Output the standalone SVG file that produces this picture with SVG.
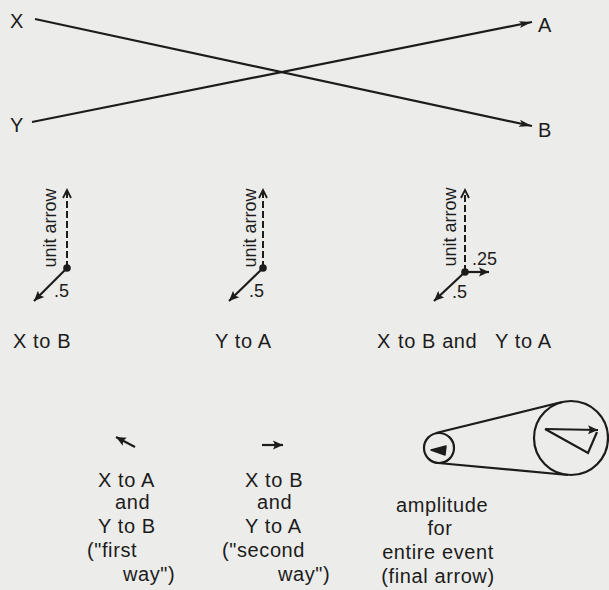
<svg xmlns="http://www.w3.org/2000/svg" width="609" height="590" viewBox="0 0 609 590">
<style>
text{font-family:"Liberation Sans",Arial,sans-serif;fill:#1c1c1c}
.lbl{font-size:20px;letter-spacing:0.6px}
.num{font-size:18px}
.ln{stroke:#1c1c1c;stroke-width:2.2;fill:none}
.dash{stroke:#1c1c1c;stroke-width:2;fill:none;stroke-dasharray:7 3}
</style>
<defs>
<marker id="ah" markerUnits="userSpaceOnUse" markerWidth="14" markerHeight="8" refX="13" refY="4" orient="auto">
<path d="M0,0.5 L13,4 L0,7.5 L3,4 z" fill="#1c1c1c"/>
</marker>
<marker id="as" markerUnits="userSpaceOnUse" markerWidth="11" markerHeight="10" refX="10" refY="5" orient="auto">
<path d="M0,0.5 L10,5 L0,9.5 L2,5 z" fill="#1c1c1c"/>
</marker>
<marker id="ao" markerUnits="userSpaceOnUse" markerWidth="11" markerHeight="11" refX="9" refY="5.5" orient="auto">
<path d="M1,1.5 L9,5.5 L1,9.5" fill="none" stroke="#1c1c1c" stroke-width="1.8"/>
</marker>
</defs>
<rect width="609" height="590" fill="#ececea"/>

<g id="connectors">
<line class="ln" x1="35" y1="19" x2="532" y2="126" marker-end="url(#ah)"/>
<line class="ln" x1="32" y1="122" x2="532" y2="22" marker-end="url(#ah)"/>
</g>

<g id="node-X"><text class="lbl" x="10" y="28">X</text></g>
<g id="node-Y"><text class="lbl" x="10" y="132">Y</text></g>
<g id="node-A"><text class="lbl" x="538" y="32">A</text></g>
<g id="node-B"><text class="lbl" x="538" y="137">B</text></g>

<g id="diagram-XtoB">
<line class="dash" x1="67" y1="268" x2="67" y2="190" marker-end="url(#ao)"/>
<line class="ln" x1="67" y1="268" x2="34" y2="301" marker-end="url(#as)"/>
<circle cx="67" cy="268" r="3.8" fill="#1c1c1c"/>
<text class="num" transform="translate(56,228) rotate(-90)" text-anchor="middle">unit arrow</text>
<text class="num" x="54" y="297">.5</text>
<text class="lbl" x="13" y="348">X to B</text>
</g>

<g id="diagram-YtoA">
<line class="dash" x1="263" y1="268" x2="263" y2="190" marker-end="url(#ao)"/>
<line class="ln" x1="263" y1="268" x2="229" y2="301" marker-end="url(#as)"/>
<circle cx="263" cy="268" r="3.8" fill="#1c1c1c"/>
<text class="num" transform="translate(256,228) rotate(-90)" text-anchor="middle">unit arrow</text>
<text class="num" x="249" y="297">.5</text>
<text class="lbl" x="215" y="348">Y to A</text>
</g>

<g id="diagram-both">
<line class="dash" x1="465" y1="272" x2="465" y2="190" marker-end="url(#ao)"/>
<line class="ln" x1="465" y1="272" x2="434" y2="301" marker-end="url(#as)"/>
<line class="ln" x1="465" y1="272" x2="489" y2="272" marker-end="url(#as)"/>
<circle cx="465" cy="272" r="3.8" fill="#1c1c1c"/>
<text class="num" transform="translate(456,227) rotate(-90)" text-anchor="middle">unit arrow</text>
<text class="num" x="452" y="298">.5</text>
<text class="num" x="472" y="265">.25</text>
<text class="lbl" y="348"><tspan x="377">X</tspan><tspan x="398">to B and</tspan><tspan x="495">Y to A</tspan></text>
</g>

<g id="first-way">
<line class="ln" x1="135" y1="447" x2="116" y2="437" marker-end="url(#as)"/>
<text class="lbl" x="98" y="487">X to A</text>
<text class="lbl" x="115" y="509">and</text>
<text class="lbl" x="98" y="533">Y to B</text>
<text class="lbl" x="87" y="557">("first</text>
<text class="lbl" x="123" y="581">way")</text>
</g>

<g id="second-way">
<line class="ln" x1="262" y1="445" x2="283" y2="445" marker-end="url(#as)"/>
<text class="lbl" x="245" y="487">X to B</text>
<text class="lbl" x="257" y="509">and</text>
<text class="lbl" x="245" y="533">Y to A</text>
<text class="lbl" x="222" y="557">("second</text>
<text class="lbl" x="278" y="581">way")</text>
</g>

<g id="final-arrow">
<circle class="ln" cx="439" cy="448" r="15"/>
<circle class="ln" cx="571" cy="438" r="37"/>
<line class="ln" x1="436" y1="433" x2="562" y2="402"/>
<line class="ln" x1="438" y1="463" x2="568" y2="475"/>
<path d="M431,450 L446,446 L445,455 z" fill="#1c1c1c" stroke="#1c1c1c" stroke-width="1.5" stroke-linejoin="round"/>
<polyline class="ln" points="545,429 588,453 597,432"/>
<line class="ln" x1="545" y1="429" x2="598" y2="430" marker-end="url(#as)"/>
<text class="lbl" x="396" y="512">amplitude</text>
<text class="lbl" x="440" y="535" text-anchor="middle">for</text>
<text class="lbl" x="438" y="559" text-anchor="middle">entire event</text>
<text class="lbl" x="438" y="583" text-anchor="middle">(final arrow)</text>
</g>
</svg>
